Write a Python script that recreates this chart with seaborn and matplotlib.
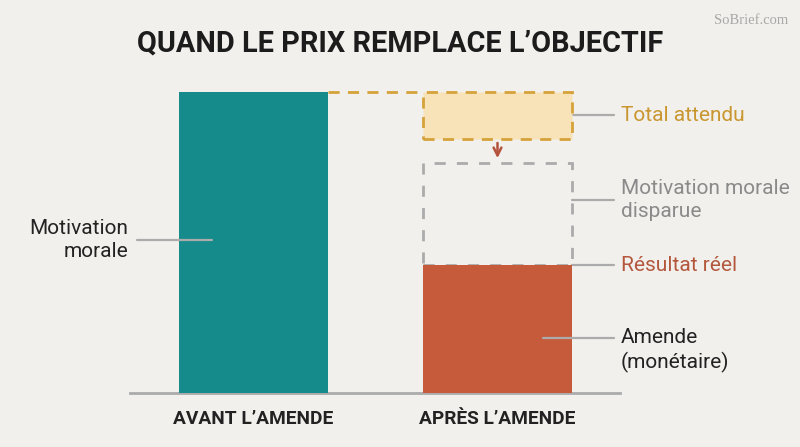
import matplotlib
matplotlib.use("Agg")
import matplotlib.pyplot as plt
from matplotlib.patches import Rectangle
import seaborn as sns
import pandas as pd

# ---- data ----
categories = ["AVANT L\u2019AMENDE", "APR\u00c8S L\u2019AMENDE"]
bar_values = [100, 42.5]          # real result per situation
expected_band = [84.5, 100]       # "Total attendu" band (after the fine)
vanished_top = 76.5               # top of the vanished moral motivation box
title = "QUAND LE PRIX REMPLACE L\u2019OBJECTIF"

# ---- style ----
BG = "#f1f0ec"
TEAL = "#158b8c"
ORANGE = "#c65b3b"
GOLD = "#d6a23a"
GOLD_FILL = "#f8e2b8"
GREY = "#ababab"
DARK = "#222222"

sns.set_theme(style="white")
plt.rcParams["font.family"] = ["Roboto", "DejaVu Sans"]

fig = plt.figure(figsize=(8, 4.47), dpi=100, facecolor=BG)
W, H = 800, 447
# axes spans x 130..620 px, y 60..393 px (from top)
ax = fig.add_axes([130 / W, (H - 393) / H, (620 - 130) / W, (393 - 60) / H])
ax.set_facecolor(BG)

df = pd.DataFrame({"cat": categories, "val": bar_values})
sns.barplot(data=df, x="cat", y="val", hue="cat", palette=[TEAL, ORANGE],
            width=0.61, legend=False, ax=ax, saturation=1, zorder=3,
            linewidth=0)

ppd = 244.0  # pixels per category unit
x0px = 253.5
ax.set_xlim((130 - x0px) / ppd, (620 - x0px) / ppd)
ypp = 100 / (393 - 92)
ax.set_ylim(0, (393 - 60) * ypp)

for s in ["top", "right", "left"]:
    ax.spines[s].set_visible(False)
ax.spines["bottom"].set_color(GREY)
ax.spines["bottom"].set_linewidth(2)
ax.set_yticks([])
ax.set_xlabel("")
ax.set_ylabel("")
ax.tick_params(axis="x", length=0, pad=12)
for lab in ax.get_xticklabels():
    lab.set_fontweight("bold")
    lab.set_fontsize(13.8)
    lab.set_color(DARK)

hw = 0.305
# vanished moral motivation box (grey dashed)
ax.add_patch(Rectangle((1 - hw, bar_values[1]), 2 * hw, vanished_top - bar_values[1],
                       facecolor="none", edgecolor=GREY, linestyle=(0, (4, 4)),
                       linewidth=2, zorder=2))
# expected total box
ax.add_patch(Rectangle((1 - hw, expected_band[0]), 2 * hw, expected_band[1] - expected_band[0],
                       facecolor=GOLD_FILL, edgecolor=GOLD, linestyle=(0, (4, 3)),
                       linewidth=2, zorder=2))
# dashed connector from the first bar top
ax.plot([0 + hw, 1 - hw], [bar_values[0], bar_values[0]], color=GOLD,
        linestyle=(0, (4, 3)), linewidth=2, zorder=2)
# arrow
ax.annotate("", xy=(1, vanished_top + 0.6), xytext=(1, expected_band[0] - 0.5),
            arrowprops=dict(arrowstyle="->", color="#b5523b", lw=1.8,
                            mutation_scale=14), zorder=4)

# leader lines + labels (right side)
xl0 = 1 + hw
xl1 = (614 - x0px) / ppd
xt = (621 - x0px) / ppd
lab_fs = 15
lines = [
    ((expected_band[0] + expected_band[1]) / 2, "Total attendu", "#c9962f"),
    (64.0, "Motivation morale\ndisparue", "#8a8a8a"),
    (bar_values[1], "R\u00e9sultat r\u00e9el", "#b4583d"),
]
for y, txt, col in lines:
    ax.plot([xl0, xl1], [y, y], color=GREY, lw=1.6, clip_on=False, zorder=1)
    ax.text(xt, y, txt, color=col, fontsize=lab_fs, ha="left", va="center",
            linespacing=1.25, clip_on=False)

# Amende (monétaire)
y_am = (393 - 338) * ypp
ax.plot([(543 - x0px) / ppd, xl1], [y_am, y_am], color=GREY, lw=1.6,
        clip_on=False, zorder=4)
ax.text(xt, (393 - 350.5) * ypp, "Amende\n(mon\u00e9taire)", color=DARK, fontsize=lab_fs,
        ha="left", va="center", linespacing=1.25, clip_on=False)

# left label
y_mm = (393 - 240) * ypp
ax.plot([(137 - x0px) / ppd, (212 - x0px) / ppd], [y_mm, y_mm], color=GREY,
        lw=1.6, clip_on=False, zorder=4)
ax.text((128 - x0px) / ppd, y_mm, "Motivation\nmorale", color=DARK, fontsize=lab_fs,
        ha="right", va="center", multialignment="right", linespacing=1.25,
        clip_on=False)

# title and watermark
fig.text(0.5, 1 - 44 / H, title, ha="center", va="center", fontsize=20.8,
         fontweight="bold", color="#1c1c1c")
fig.text(788 / W, 1 - 20 / H, "SoBrief.com", ha="right", va="center",
         fontsize=10.5, color="#a8a8a8", family=["Liberation Serif", "DejaVu Serif"])

fig.savefig("out.png", dpi=100, facecolor=BG)
